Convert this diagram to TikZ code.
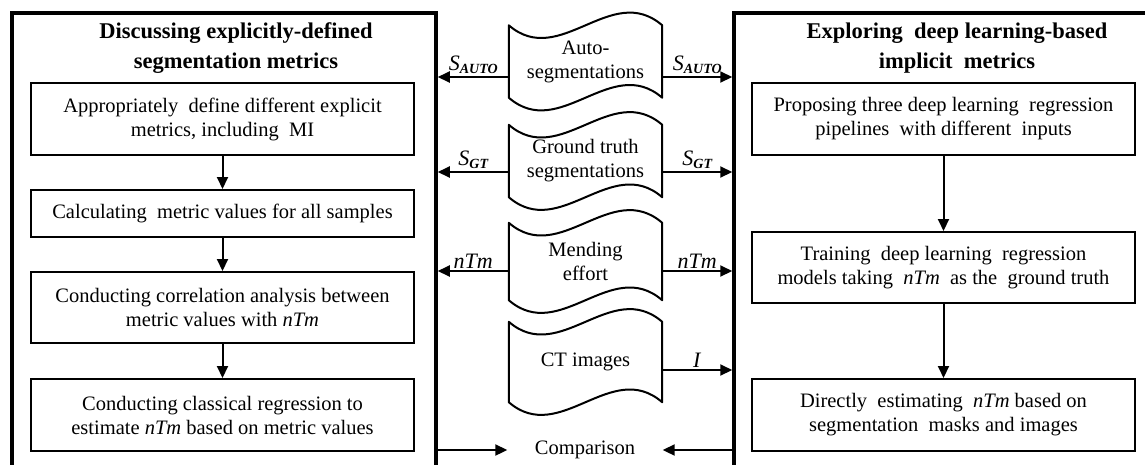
\documentclass[tikz,border=0pt]{standalone}
\usepackage{fontspec}
\setmainfont{Liberation Serif}
\usetikzlibrary{arrows.meta,calc}
\newcommand\tapeout[1]{%
  \draw[docline] (#1.north west)
    .. controls ($(#1.north west)+(51,44)$) and ($(#1.north east)+(-51,-44)$) .. (#1.north east)
    -- (#1.south east)
    .. controls ($(#1.south east)+(-51,-44)$) and ($(#1.south west)+(51,44)$) .. (#1.south west)
    -- cycle;}
\newcommand\sauto{\textit{S}\raisebox{-0.35ex}{\fontsize{14}{14}\selectfont\bfseries\itshape AUTO}}
\newcommand\sgt{\textit{S}\raisebox{-0.35ex}{\fontsize{14}{14}\selectfont\bfseries\itshape GT}}
\begin{document}
\begin{tikzpicture}[x=1pt,y=-1pt,
  every node/.style={font=\fontsize{20.5}{24}\selectfont},
  bigbox/.style={draw, line width=3.5pt, inner sep=0pt, minimum height=510pt},
  titlebox/.style={align=center, font=\fontsize{22.5}{30}\selectfont\bfseries, inner sep=0pt},
  stepbox/.style={draw, line width=2pt, align=center, minimum width=383pt, inner sep=0pt},
  docbox/.style={minimum width=153pt, inner sep=0pt, align=center},
  docline/.style={line width=2pt, line join=round},
  arr/.style={line width=2pt, -{Triangle[length=12pt,width=11pt]}},
  lab/.style={above=1pt, inner sep=1pt, font=\fontsize{22}{24}\selectfont}
]
\useasboundingbox (0,0) rectangle (1145,464);
\clip (0,0) rectangle (1145,464);

% big frames
\node[bigbox, minimum width=424pt] (L) at (224,268) {};
\node[bigbox, minimum width=430pt] (R) at (949,268) {};

% titles
\node[titlebox] (Lt) at (236,48) {Discussing explicitly-defined\\segmentation metrics};
\node[titlebox] (Rt) at (957,48) {Exploring\ \ deep learning-based\\implicit\ \ metrics};

% left steps
\node[stepbox, minimum height=72pt] (l1) at (222.5,119) {Appropriately\ \ define different explicit\\metrics, including\ \ MI};
\node[stepbox, minimum height=47pt] (l2) at (222.5,213.5) {Calculating\ \ metric values for all samples};
\node[stepbox, minimum height=71pt] (l3) at (222.5,307.5) {Conducting correlation analysis between\\metric values with \textit{nTm}};
\node[stepbox, minimum height=72pt] (l4) at (222.5,415) {Conducting classical regression to\\estimate \textit{nTm} based on metric values};

% right steps
\node[stepbox, minimum height=72pt] (r1) at (943.5,119) {Proposing three deep learning\ \ regression\\pipelines\ \ with different\ \ inputs};
\node[stepbox, minimum height=71pt] (r2) at (943.5,267.5) {Training\ \ deep learning\ \ regression\\models taking\ \ \textit{nTm}\ \ as the\ \ ground truth};
\node[stepbox, minimum height=72pt] (r3) at (943.5,415) {Directly\ \ estimating\ \ \textit{nTm} based on\\segmentation\ \ masks and images};

\draw[arr] (l1) -- (l2);
\draw[arr] (l2) -- (l3);
\draw[arr] (l3) -- (l4);
\draw[arr] (r1) -- (r2);
\draw[arr] (r2) -- (r3);

% data documents
\node[docbox, minimum height=72pt] (d1) at (585.5,61.5) {Auto-\\segmentations};
\node[docbox, minimum height=72pt] (d2) at (585.5,161) {Ground truth\\segmentations};
\node[docbox, minimum height=77pt] (d3) at (585.5,261.5) {Mending\\effort};
\node[docbox, minimum height=80pt] (d4) at (585.5,362) {CT images};
\tapeout{d1}
\tapeout{d2}
\tapeout{d3}
\tapeout{d4}

\coordinate (y1) at (0,77);
\coordinate (y2) at (0,172);
\coordinate (y3) at (0,271);
\coordinate (y4) at (0,370);
\coordinate (y5) at (0,450);

\draw[arr] (d1.west |- y1) -- node[lab] {\sauto} (L.east |- y1);
\draw[arr] (d1.east |- y1) -- node[lab] {\sauto} (R.west |- y1);
\draw[arr] (d2.west |- y2) -- node[lab] {\sgt} (L.east |- y2);
\draw[arr] (d2.east |- y2) -- node[lab] {\sgt} (R.west |- y2);
\draw[arr] (d3.west |- y3) -- node[lab] {\textit{nTm}} (L.east |- y3);
\draw[arr] (d3.east |- y3) -- node[lab] {\textit{nTm}} (R.west |- y3);
\draw[arr] (d4.east |- y4) -- node[lab] {\textit{I}} (R.west |- y4);

% comparison
\node[docbox, minimum width=155pt] (cmp) at (585,450) {Comparison};
\draw[arr] (L.east |- y5) -- (cmp.west |- y5);
\draw[arr] (R.west |- y5) -- (cmp.east |- y5);
\end{tikzpicture}
\end{document}
